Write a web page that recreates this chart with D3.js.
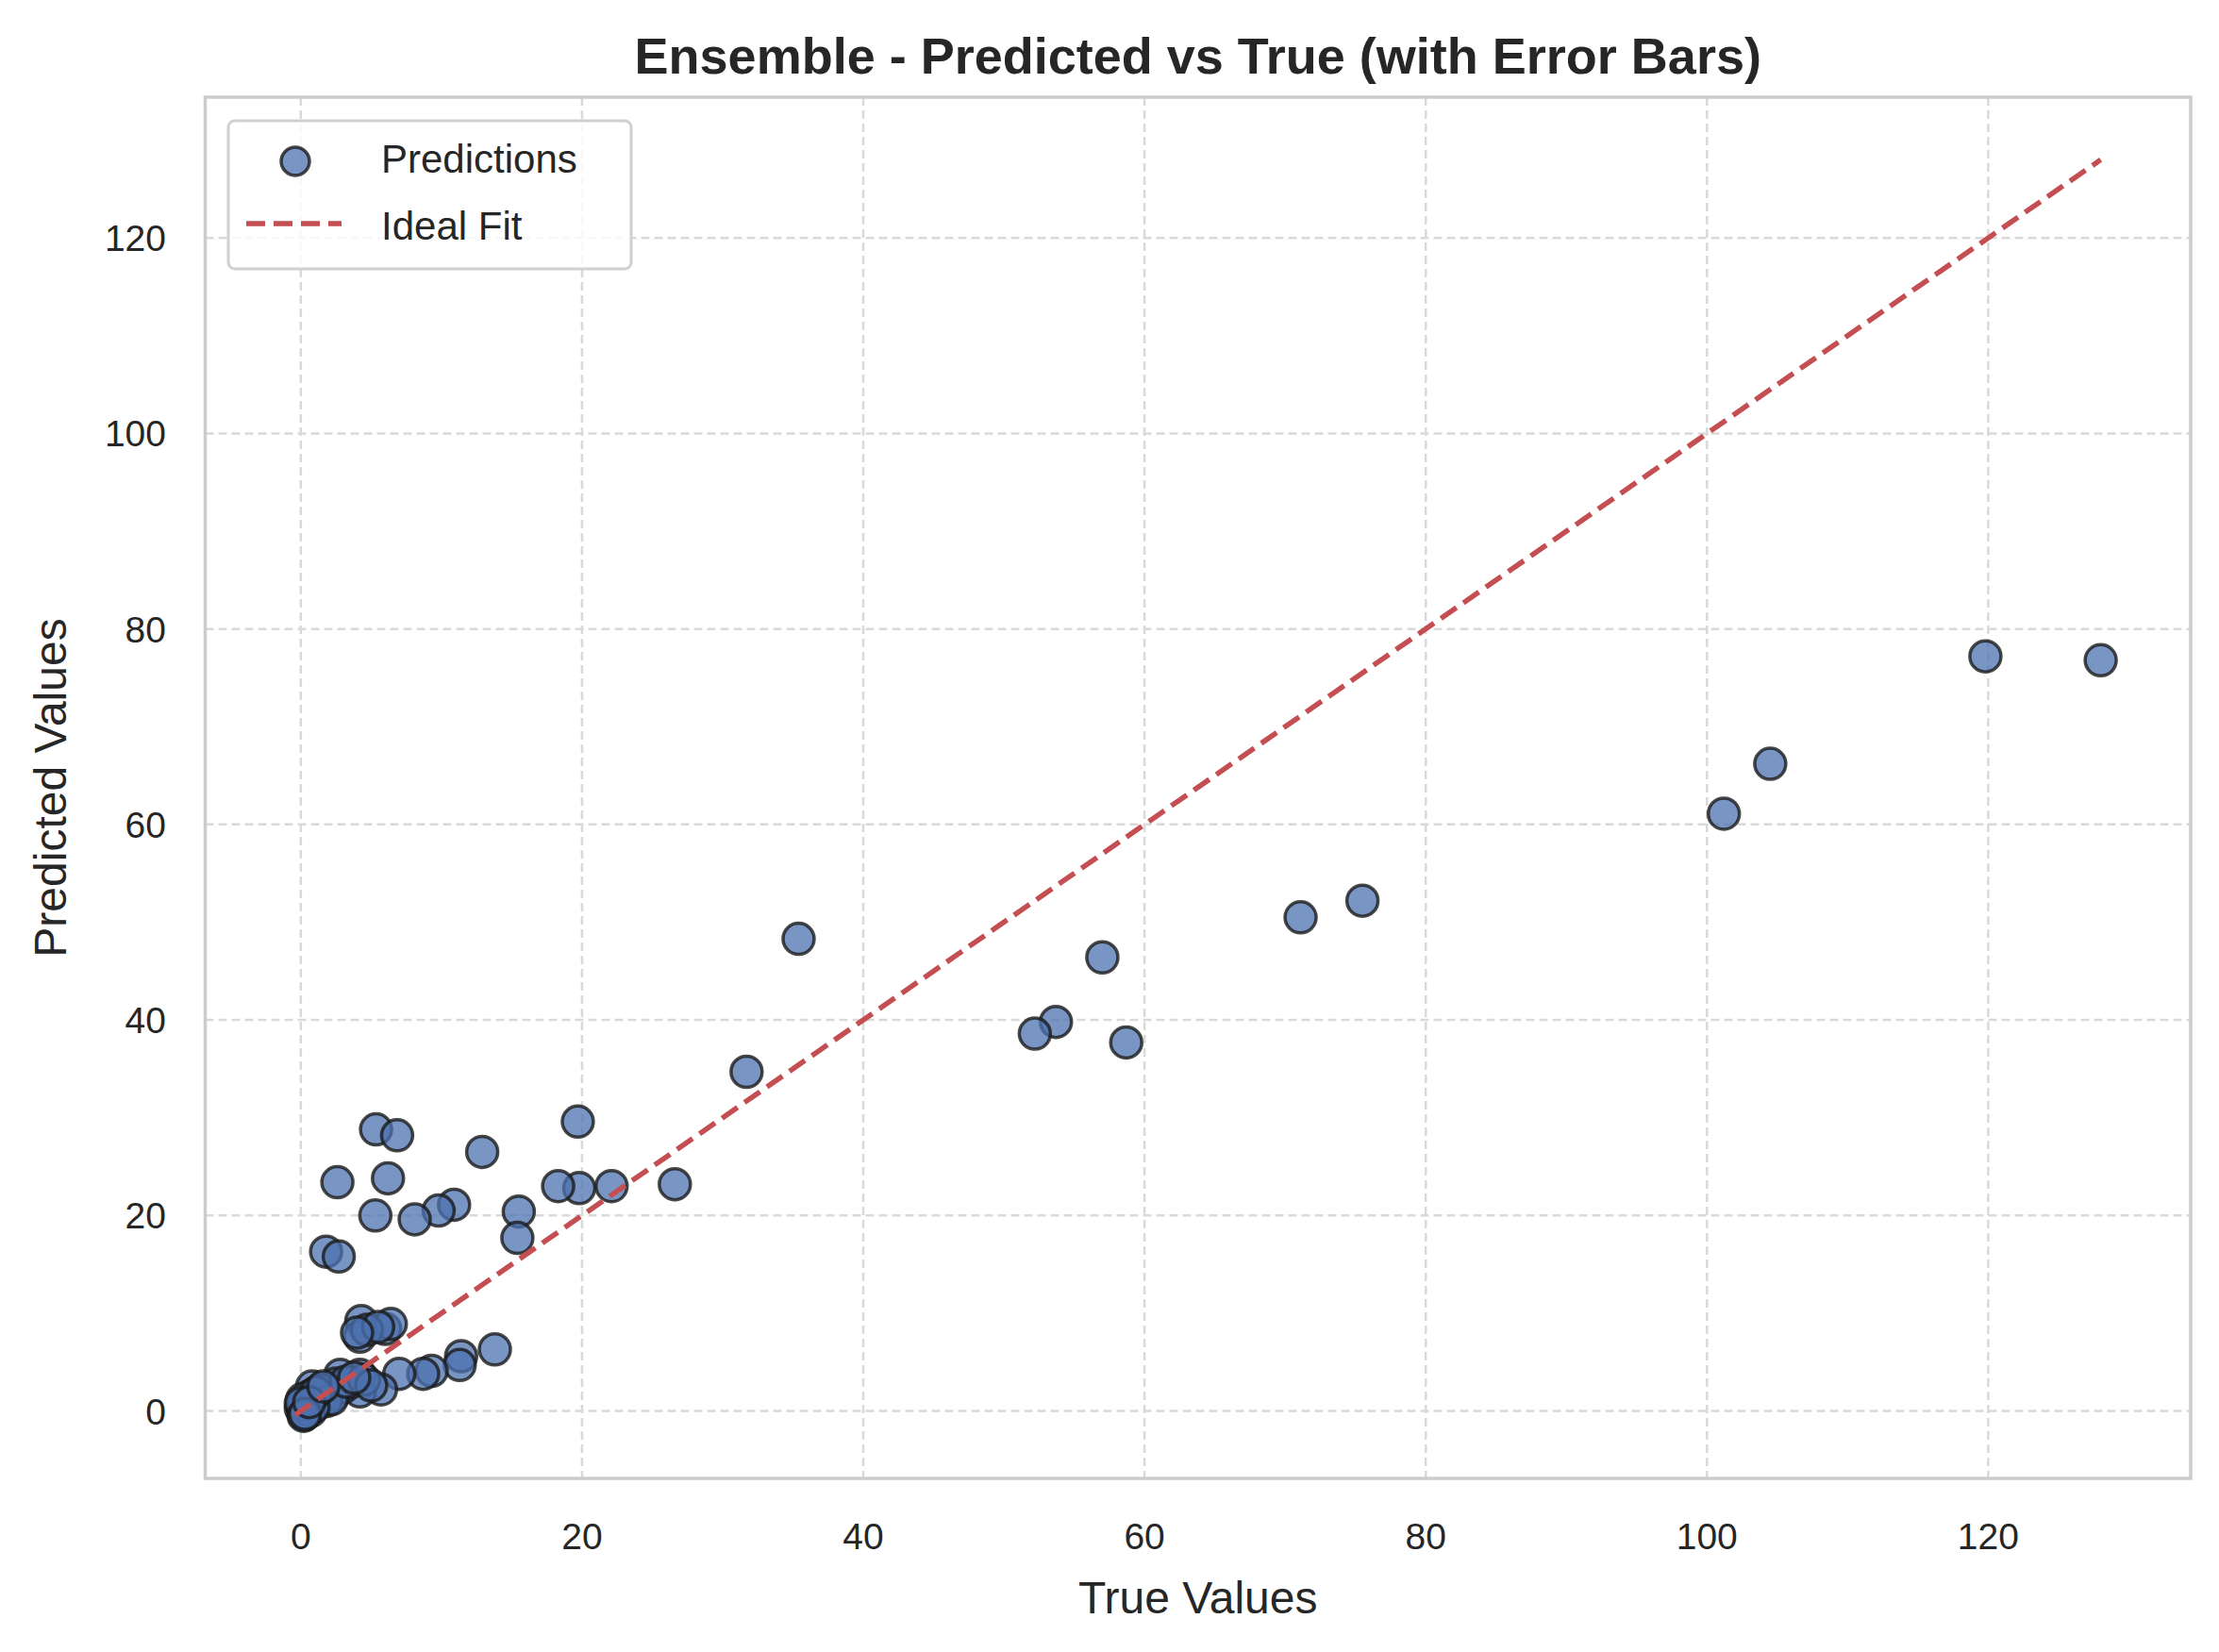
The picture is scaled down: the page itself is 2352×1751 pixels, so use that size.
<!DOCTYPE html>
<html><head><meta charset="utf-8">
<script src="https://cdn.jsdelivr.net/npm/d3@7"></script>
<style>body{margin:0;background:#fff}text{font-family:"Liberation Sans",Arial,sans-serif;fill:#262626}</style>
</head><body><svg id="c" width="2352" height="1751"></svg>
<script>
const trueVals=[128,119.8,104.5,101.2,71.1,75.5,57.0,53.7,52.2,58.7,35.4,31.7,26.6,22.1,19.8,18.3,19.7,15.5,15.4,12.9,10.9,9.8,8.1,5.35,6.85,6.2,2.6,5.3,1.8,2.7,
13.8,11.4,11.3,9.3,8.7,7.0,5.7,4.2,4.2,2.8,0.8,0.8,0.25,0,
4.3,6.0,4.2,6.4,4.7,5.5,4.0,
0.1,0.3,0.5,0.2,0.6,1.0,1.2,1.5,2.0,2.3,2.5,3.0,3.5,1.8,0.4,0.7,1.4,2.2,3.2,0.1,0.9,1.1,0.0,0.2,4.5,5.0,3.8,0.3,0.6,1.6];
const predVals=[76.8,77.2,66.2,61.1,50.5,52.2,46.4,39.8,38.6,37.7,48.3,34.7,23.2,23.0,22.8,23.0,29.6,20.4,17.7,26.5,21.1,20.5,19.6,28.8,28.2,23.8,23.4,20.0,16.3,15.8,
6.3,5.6,4.7,4.1,3.8,3.8,2.2,2.0,3.7,3.7,2.5,1.2,-0.4,0.3,
9.2,8.4,7.6,8.9,8.3,8.6,8.0,
0.5,1.0,0.2,-0.2,1.5,1.8,0.8,1.3,2.0,1.6,2.8,2.4,2.9,1.0,0.6,0.0,2.2,1.2,3.0,1.2,0.4,1.9,0.8,-0.5,3.2,2.6,3.4,-0.3,0.9,2.5];
const ticks=[0,20,40,60,80,100,120];
const L=217.5,R=2322,T=103,B=1567;
const svg=d3.select("#c");
const x=d3.scaleLinear().domain([-6.8,134.4]).range([L,R]);
const y=d3.scaleLinear().domain([-6.9,134.4]).range([B,T]);
const g=svg.append("g");
ticks.forEach(t=>{
 g.append("line").attr("x1",x(t)).attr("x2",x(t)).attr("y1",T).attr("y2",B).attr("stroke","#d9d9d9").attr("stroke-width",2.5).attr("stroke-dasharray","9,5");
 g.append("line").attr("y1",y(t)).attr("y2",y(t)).attr("x1",L).attr("x2",R).attr("stroke","#d9d9d9").attr("stroke-width",2.5).attr("stroke-dasharray","9,5");
 g.append("text").attr("x",x(t)).attr("y",1642).attr("text-anchor","middle").attr("font-size",39).text(t);
 g.append("text").attr("x",176).attr("y",y(t)+14).attr("text-anchor","end").attr("font-size",39).text(t);
});
g.selectAll("circle.p").data(trueVals.map((v,i)=>[v,predVals[i]])).enter().append("circle")
 .attr("cx",d=>x(d[0])).attr("cy",d=>y(d[1])).attr("r",16.5).attr("fill","rgba(76,114,176,0.75)").attr("stroke","rgba(26,26,26,0.8)").attr("stroke-width",3.5);
g.append("line").attr("x1",x(-0.4)).attr("y1",y(-0.4)).attr("x2",x(128)).attr("y2",y(128)).attr("stroke","#c44e52").attr("stroke-width",5.5).attr("stroke-dasharray","20,9");
g.append("rect").attr("x",L).attr("y",T).attr("width",R-L).attr("height",B-T).attr("fill","none").attr("stroke","#cccccc").attr("stroke-width",3.5);
svg.append("text").attr("x",(L+R)/2).attr("y",78).attr("text-anchor","middle").attr("font-size",54).attr("font-weight","bold").text("Ensemble - Predicted vs True (with Error Bars)");
svg.append("text").attr("x",(L+R)/2).attr("y",1710).attr("text-anchor","middle").attr("font-size",48).text("True Values");
svg.append("text").attr("transform",`translate(70,${(T+B)/2}) rotate(-90)`).attr("text-anchor","middle").attr("font-size",48).text("Predicted Values");
const lg=svg.append("g");
lg.append("rect").attr("x",242).attr("y",128).attr("width",427).attr("height",157).attr("rx",7).attr("fill","rgba(255,255,255,0.8)").attr("stroke","#d0d0d0").attr("stroke-width",3);
lg.append("circle").attr("cx",313).attr("cy",171).attr("r",15).attr("fill","rgba(76,114,176,0.75)").attr("stroke","rgba(26,26,26,0.8)").attr("stroke-width",3.5);
lg.append("line").attr("x1",261).attr("x2",362).attr("y1",237).attr("y2",237).attr("stroke","#c44e52").attr("stroke-width",5.5).attr("stroke-dasharray","20,9");
lg.append("text").attr("x",404).attr("y",183).attr("font-size",42).text("Predictions");
lg.append("text").attr("x",404).attr("y",254).attr("font-size",42).text("Ideal Fit");
</script></body></html>
